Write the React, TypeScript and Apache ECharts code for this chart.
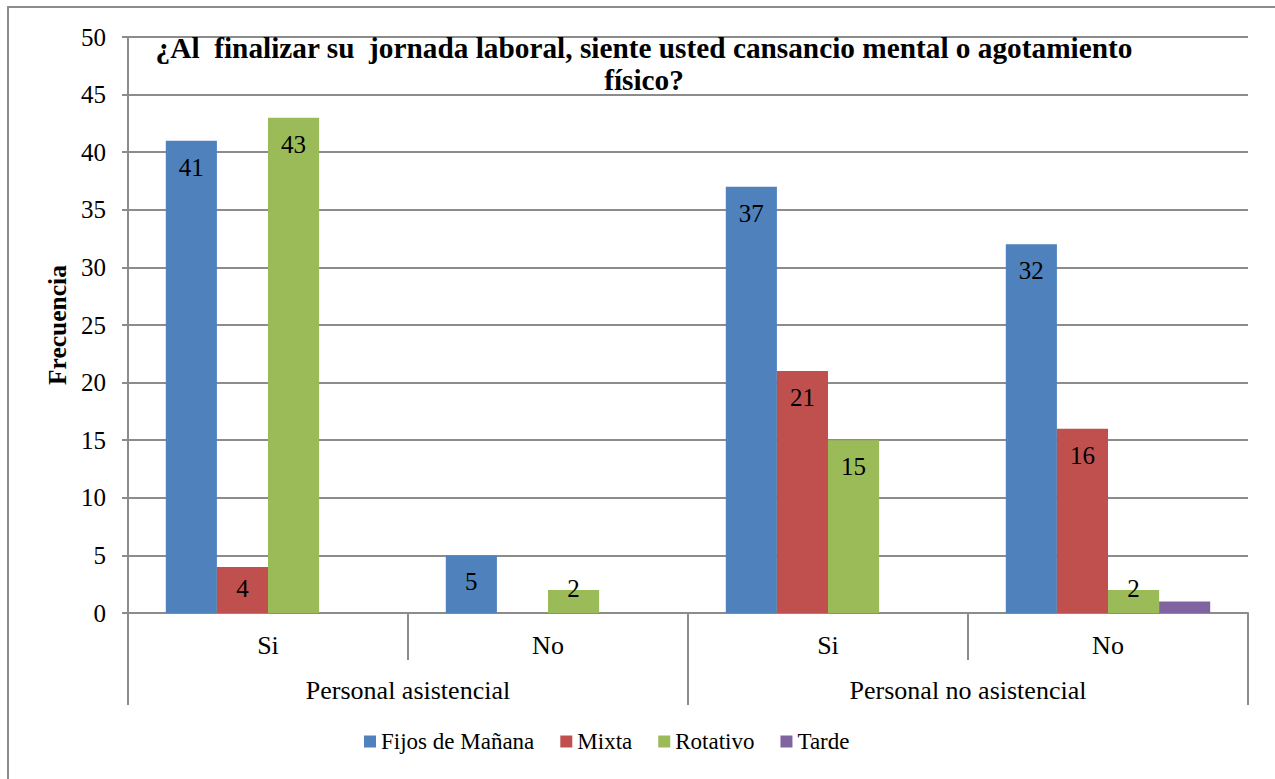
import React, { useEffect, useRef } from "react";
import * as echarts from "echarts";

const subCategories = ["Si", "No", "Si", "No"];
const groupCategories = ["Personal asistencial", "Personal no asistencial"];
const seriesNames = ["Fijos de Mañana", "Mixta", "Rotativo", "Tarde"];
const fijos = [41, 5, 37, 32];
const mixta = [4, 0, 21, 16];
const rotativo = [43, 2, 15, 2];
const tarde = [0, 0, 0, 1];
const colors = ["#4F81BD", "#C0504D", "#9BBB59", "#8064A2"];
const titleLines = [
  "¿Al  finalizar su  jornada laboral, siente usted cansancio mental o agotamiento",
  "físico?",
];

const FONT = "Liberation Serif";
const GRAY = "#8c8c8c";

export default function App() {
  const ref = useRef<HTMLDivElement>(null);
  useEffect(() => {
    if (!ref.current) return;
    const chart = echarts.init(ref.current, null, { renderer: "svg" });
    const values = [fijos, mixta, rotativo, tarde];
    const series = values.map((vals, i) => ({
      name: seriesNames[i],
      type: "bar",
      xAxisIndex: 0,
      yAxisIndex: 0,
      barGap: "0%",
      barCategoryGap: "27%",
      itemStyle: { color: colors[i] },
      label: {
        show: i < 3,
        position: "insideTop",
        distance: 14,
        color: "#000",
        fontFamily: FONT,
        fontSize: 25,
        formatter: (p: any) => (p.value ? String(p.value) : ""),
      },
      data: vals.map((v) =>
        v > 0 && v <= 4
          ? { value: v, label: { position: "insideBottom", distance: 12 } }
          : { value: v }
      ),
    }));
    chart.setOption({
      animation: false,
      title: {
        text: titleLines.join("\n"),
        left: 639,
        top: 27,
        textAlign: "center",
        textStyle: {
          fontFamily: FONT,
          fontWeight: "bold",
          fontSize: 29.3,
          lineHeight: 32,
          color: "#000",
        },
      },
      graphic: [
        {
          type: "rect",
          shape: { x: 8, y: 7, width: 1300, height: 800 },
          style: { fill: "none", stroke: GRAY, lineWidth: 2 },
          silent: true,
        },
      ],
      legend: {
        left: 359,
        top: 725,
        itemWidth: 12,
        itemHeight: 12,
        itemGap: 26,
        icon: "rect",
        textStyle: { fontFamily: FONT, fontSize: 23, color: "#000" },
        data: seriesNames,
      },
      grid: { left: 128, right: 27, top: 37, bottom: 166 },
      xAxis: [
        {
          type: "category",
          data: subCategories,
          position: "bottom",
          axisLine: { show: true, lineStyle: { color: GRAY, width: 2 } },
          axisTick: {
            show: true,
            interval: 0,
            length: 47,
            lineStyle: { color: GRAY, width: 2 },
          },
          axisLabel: {
            interval: 0,
            margin: 19,
            color: "#000",
            fontFamily: FONT,
            fontSize: 26,
          },
        },
        {
          type: "category",
          data: groupCategories,
          position: "bottom",
          offset: 47,
          axisLine: { show: false },
          axisTick: {
            show: true,
            interval: 0,
            length: 45,
            lineStyle: { color: GRAY, width: 2 },
          },
          axisLabel: {
            interval: 0,
            margin: 17,
            color: "#000",
            fontFamily: FONT,
            fontSize: 26,
          },
        },
      ],
      yAxis: {
        type: "value",
        min: 0,
        max: 50,
        interval: 5,
        name: "Frecuencia",
        nameLocation: "middle",
        nameRotate: 90,
        nameGap: 58,
        nameTextStyle: {
          fontFamily: FONT,
          fontWeight: "bold",
          fontSize: 25.5,
          color: "#000",
        },
        axisLine: { show: true, lineStyle: { color: GRAY, width: 2 } },
        axisTick: { show: true, length: 6, lineStyle: { color: GRAY, width: 2 } },
        axisLabel: { margin: 22, color: "#000", fontFamily: FONT, fontSize: 25 },
        splitLine: { show: true, lineStyle: { color: GRAY, width: 2 } },
      },
      series,
    });
    return () => chart.dispose();
  }, []);
  return (
    <div
      ref={ref}
      style={{ position: "fixed", left: 0, top: 0, width: 1275, height: 779, background: "#fff" }}
    />
  );
}
